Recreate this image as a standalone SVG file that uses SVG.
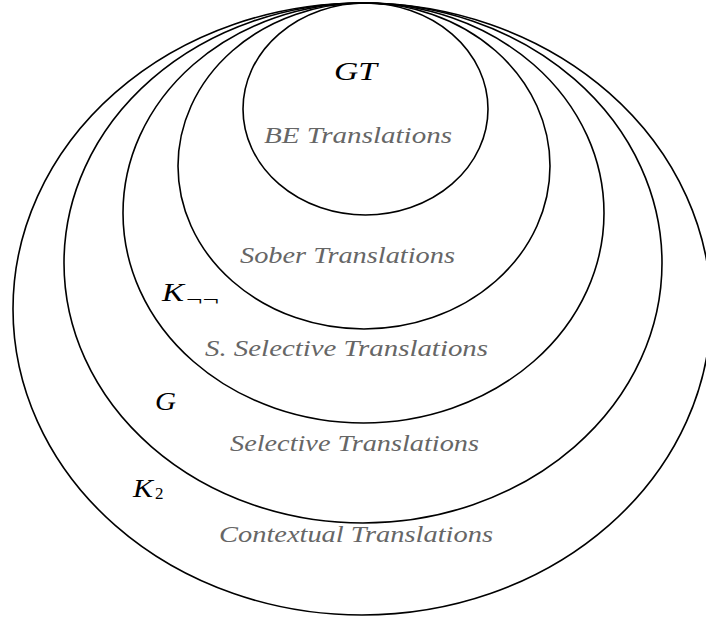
<svg xmlns="http://www.w3.org/2000/svg" width="706" height="618" viewBox="0 0 706 618">
<style>
.e{fill:none;stroke:#000;stroke-width:1.6}
text{font-family:'Liberation Serif','DejaVu Serif','Times New Roman',serif}
.lab{font-style:italic;font-size:25px;fill:#000}
.cls{font-style:italic;font-size:24px;fill:#666}
.sub{font-style:normal;font-size:17px;fill:#000}
</style>
<rect width="706" height="618" fill="#fff"/>
<g id="contextual">
<ellipse class="e" cx="362" cy="309" rx="349" ry="306"/>
<text class="cls" x="219" y="542" textLength="274" lengthAdjust="spacingAndGlyphs">Contextual Translations</text>
<text class="lab" x="133" y="497" textLength="20" lengthAdjust="spacingAndGlyphs">K</text>
<text class="sub" x="155" y="499">2</text>
</g>
<g id="selective">
<ellipse class="e" cx="363" cy="263" rx="299" ry="260"/>
<text class="cls" x="230" y="451" textLength="249" lengthAdjust="spacingAndGlyphs">Selective Translations</text>
<text class="lab" x="155" y="410" textLength="21" lengthAdjust="spacingAndGlyphs">G</text>
</g>
<g id="sselective">
<ellipse class="e" cx="363.5" cy="213" rx="240.5" ry="210"/>
<text class="cls" x="205" y="356" textLength="283" lengthAdjust="spacingAndGlyphs">S. Selective Translations</text>
<text class="lab" x="162" y="301" textLength="22" lengthAdjust="spacingAndGlyphs">K</text>
<text class="sub" x="186" y="305" textLength="33" lengthAdjust="spacingAndGlyphs">¬¬</text>
</g>
<g id="sober">
<ellipse class="e" cx="364" cy="166" rx="186" ry="163"/>
<text class="cls" x="240" y="263" textLength="215" lengthAdjust="spacingAndGlyphs">Sober Translations</text>
</g>
<g id="be">
<ellipse class="e" cx="365.5" cy="109" rx="122.5" ry="106"/>
<text class="cls" x="264" y="143" textLength="188" lengthAdjust="spacingAndGlyphs">BE Translations</text>
<text class="lab" x="334" y="80" textLength="43" lengthAdjust="spacingAndGlyphs">GT</text>
</g>
<g id="connectors"/>
</svg>
